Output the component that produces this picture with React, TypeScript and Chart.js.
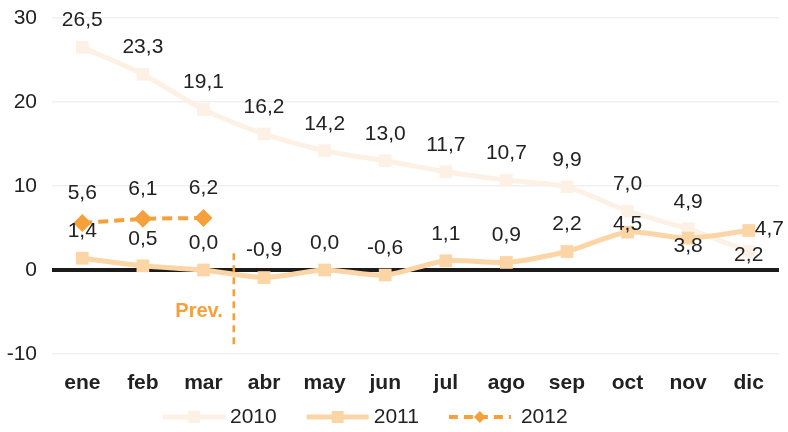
import React, { useEffect, useRef } from "react";
import { Chart, registerables } from "chart.js";

Chart.register(...registerables);

const months = ["ene", "feb", "mar", "abr", "may", "jun", "jul", "ago", "sep", "oct", "nov", "dic"];
const s2010 = [26.5, 23.3, 19.1, 16.2, 14.2, 13.0, 11.7, 10.7, 9.9, 7.0, 4.9, 2.2];
const s2011 = [1.4, 0.5, 0.0, -0.9, 0.0, -0.6, 1.1, 0.9, 2.2, 4.5, 3.8, 4.7];
const s2012 = [5.6, 6.1, 6.2];
const seriesNames = ["2010", "2011", "2012"];
const yMin = -10;
const yMax = 30;
const prevText = "Prev.";

const colors = ["#fdf1e5", "#fcd5a6", "#f5a03a"];
const FONT = "'Liberation Sans', Arial, Helvetica, sans-serif";
const TEXT = "#222222";
const FS = 21;

const fmt = (v: number) => v.toFixed(1).replace(".", ",");

const labelsPlugin = {
  id: "customLabels",
  afterDatasetsDraw(chart: any) {
    const ctx = chart.ctx;
    ctx.save();
    ctx.font = `${FS}px ${FONT}`;
    ctx.fillStyle = TEXT;
    ctx.textBaseline = "middle";
    chart.data.datasets.forEach((ds: any, di: number) => {
      const meta = chart.getDatasetMeta(di);
      meta.data.forEach((pt: any, i: number) => {
        const v = ds.data[i];
        let x = pt.x;
        let y = pt.y - 27;
        ctx.textAlign = "center";
        if (di === 2) y = pt.y - 30;
        if (di === 0 && i === 11) y = pt.y + 4;
        if (di === 1 && i === 9) y = pt.y - 8;
        if (di === 1 && i === 10) y = pt.y + 8;
        if (di === 1 && i === 11) {
          x = pt.x + 6;
          y = pt.y - 1;
          ctx.textAlign = "left";
        }
        ctx.fillText(fmt(v), x, y);
      });
    });
    ctx.restore();
  },
};

const prevPlugin = {
  id: "prevMarker",
  afterDraw(chart: any) {
    const ctx = chart.ctx;
    const xs = chart.scales.x;
    const ys = chart.scales.y;
    const x = (xs.getPixelForValue(2) + xs.getPixelForValue(3)) / 2;
    ctx.save();
    ctx.strokeStyle = colors[2];
    ctx.lineWidth = 2.5;
    ctx.setLineDash([7, 5]);
    ctx.beginPath();
    ctx.moveTo(x, ys.getPixelForValue(2));
    ctx.lineTo(x, ys.getPixelForValue(-9.2));
    ctx.stroke();
    ctx.setLineDash([]);
    ctx.fillStyle = colors[2];
    ctx.font = `bold 20px ${FONT}`;
    ctx.textAlign = "right";
    ctx.textBaseline = "middle";
    ctx.fillText(prevText, x - 11, ys.getPixelForValue(-4.9));
    ctx.restore();
  },
};

const legendPlugin = {
  id: "customLegend",
  afterDraw(chart: any) {
    const ctx = chart.ctx;
    ctx.save();
    const y = 417;
    let x = 163;
    const lineLen = 62;
    ctx.font = `${FS}px ${FONT}`;
    ctx.textBaseline = "middle";
    ctx.textAlign = "left";
    seriesNames.forEach((name, i) => {
      ctx.strokeStyle = colors[i];
      ctx.fillStyle = colors[i];
      ctx.lineWidth = i === 2 ? 4 : 5;
      if (i === 2) ctx.setLineDash([9, 6]);
      else ctx.setLineDash([]);
      ctx.beginPath();
      ctx.moveTo(x, y);
      ctx.lineTo(x + lineLen, y);
      ctx.stroke();
      ctx.setLineDash([]);
      const mx = x + lineLen / 2;
      if (i === 2) {
        const r = 6;
        ctx.beginPath();
        ctx.moveTo(mx - r, y);
        ctx.lineTo(mx, y - r);
        ctx.lineTo(mx + r, y);
        ctx.lineTo(mx, y + r);
        ctx.closePath();
        ctx.fill();
      } else {
        ctx.fillRect(mx - 6, y - 6, 12, 12);
      }
      ctx.fillStyle = TEXT;
      const tx = x + lineLen + (i === 2 ? 10 : 5);
      ctx.fillText(name, tx, y);
      const w = ctx.measureText(name).width;
      x = tx + w + 30;
    });
    ctx.restore();
  },
};

export default function App() {
  const ref = useRef<HTMLCanvasElement | null>(null);

  useEffect(() => {
    document.body.style.margin = "0";
    const canvas = ref.current;
    if (!canvas) return;
    const chart = new Chart(canvas, {
      type: "line",
      data: {
        labels: months,
        datasets: [
          {
            label: seriesNames[0],
            data: s2010,
            borderColor: colors[0],
            backgroundColor: colors[0],
            borderWidth: 5,
            pointStyle: "rect",
            pointRadius: 9,
            pointHoverRadius: 9,
            pointBorderWidth: 0,
            tension: 0.25,
            order: 3,
          },
          {
            label: seriesNames[1],
            data: s2011,
            borderColor: colors[1],
            backgroundColor: colors[1],
            borderWidth: 5,
            pointStyle: "rect",
            pointRadius: 9,
            pointHoverRadius: 9,
            pointBorderWidth: 0,
            tension: 0.25,
            order: 2,
          },
          {
            label: seriesNames[2],
            data: s2012,
            borderColor: colors[2],
            backgroundColor: colors[2],
            borderWidth: 4,
            borderDash: [10, 6],
            pointStyle: "rectRot",
            pointRadius: 9,
            pointHoverRadius: 9,
            pointBorderWidth: 0,
            tension: 0,
            order: 1,
          },
        ],
      },
      options: {
        responsive: false,
        animation: false,
        layout: { padding: { top: 18, right: 8, left: 0, bottom: 0 } },
        plugins: {
          legend: { display: false },
          tooltip: { enabled: false },
        },
        scales: {
          x: {
            offset: true,
            grid: { display: false, drawTicks: false },
            border: { display: false },
            ticks: {
              color: TEXT,
              font: { family: FONT, size: FS, weight: "bold" },
              padding: 17,
              maxRotation: 0,
              autoSkip: false,
            },
            afterFit(scale: any) {
              scale.height = 78;
              scale.paddingLeft = 0;
              scale.paddingRight = 0;
            },
          },
          y: {
            min: yMin,
            max: yMax,
            ticks: {
              stepSize: 10,
              color: TEXT,
              font: { family: FONT, size: FS },
              padding: 15,
            },
            grid: {
              drawTicks: false,
              color: (c: any) => (c.tick && c.tick.value === 0 ? "#1b1b1b" : "#f0f0f0"),
              lineWidth: (c: any) => (c.tick && c.tick.value === 0 ? 4 : 1.5),
            },
            border: { display: false },
            afterFit(scale: any) {
              scale.width = 52;
              scale.paddingTop = 0;
              scale.paddingBottom = 0;
            },
          },
        },
      },
      plugins: [labelsPlugin, prevPlugin, legendPlugin],
    } as any);
    return () => chart.destroy();
  }, []);

  return (
    <div style={{ position: "fixed", left: 0, top: 0, width: 788, height: 432, background: "#fff" }}>
      <canvas ref={ref} width={788} height={432} />
    </div>
  );
}
